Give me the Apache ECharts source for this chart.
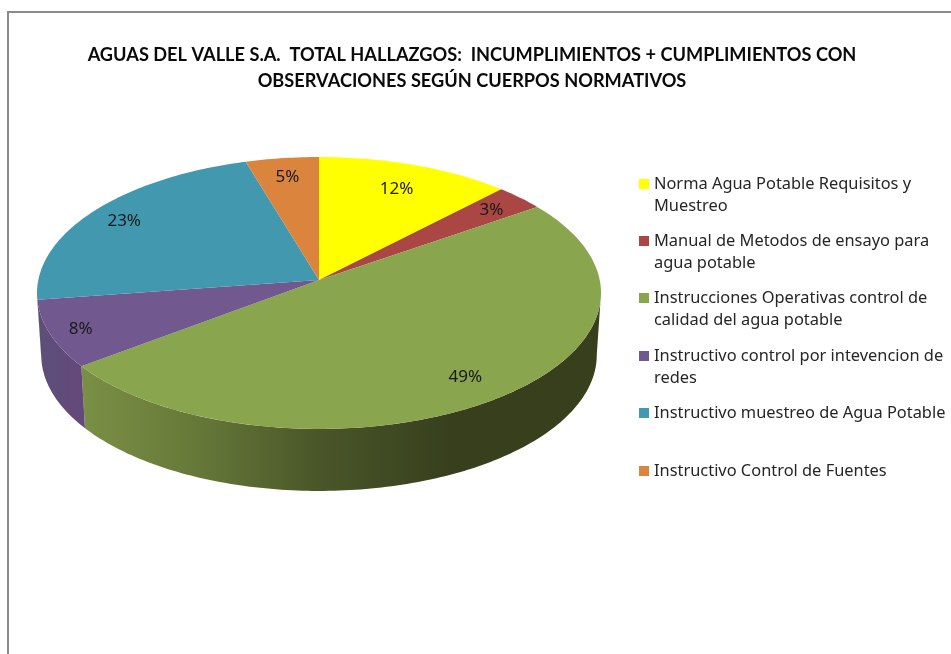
<!DOCTYPE html>
<html>
<head>
<meta charset="utf-8">
<style>html,body{margin:0;padding:0;background:#fff}#c{width:951px;height:654px}</style>
<script src="https://cdn.jsdelivr.net/npm/echarts@6/dist/echarts.min.js"></script>
</head>
<body>
<div id="c"></div>
<script>
var categories = [
  'Norma Agua Potable Requisitos y Muestreo',
  'Manual de Metodos de ensayo para agua potable',
  'Instrucciones Operativas control de calidad del agua potable',
  'Instructivo control por intevencion de redes',
  'Instructivo muestreo de Agua Potable',
  'Instructivo Control de Fuentes'
];
var legendLines = [
  '\u00a0\nNorma Agua Potable Requisitos y\nMuestreo',
  '\u00a0\nManual de Metodos de ensayo para\nagua potable',
  '\u00a0\nInstrucciones Operativas control de\ncalidad del agua potable',
  '\u00a0\nInstructivo control por intevencion de\nredes',
  'Instructivo muestreo de Agua Potable',
  'Instructivo Control de Fuentes'
];
var values = [12.2, 3.1, 49.4, 8.0, 22.7, 4.6];
var colors = ['#FFFF00', '#AA4643', '#89A54E', '#71588F', '#4198AF', '#DB843D'];
var wallColors = [
  [[0, '#8a8a00'], [1, '#8a8a00']],
  [[0, '#6b2c2a'], [1, '#6b2c2a']],
  [[0, '#7A8F45'], [0.3, '#657838'], [0.6, '#4A5729'], [0.95, '#373F1D'], [1, '#373F1D']],
  [[0, '#5C4F7A'], [1, '#644879']],
  [[0, '#3a7a8c'], [1, '#3a7a8c']],
  [[0, '#a8652e'], [1, '#a8652e']]
];
var legendTops = [151, 208, 265, 323, 402, 460];
var labelRadius = [0.79, 0.85, 0.83, 0.89, 0.86, 0.84];

// Projection of the tilted disc
var CX = 319, CY = 280, KX = 280.7, KY = 134.7, P = 0.0955, DEPTH = 62, SHRINK = 0.985;
function project(deg, r, lower) {
  var t = deg * Math.PI / 180;
  var X = Math.sin(t) * r, Y = Math.cos(t) * r;
  var den = 1 + P * Y;
  return lower
    ? [CX + SHRINK * KX * X / den, CY + DEPTH - KY * Y / den]
    : [CX + KX * X / den, CY - KY * Y / den];
}
function arc(a, b, r, lower) {
  var pts = [], n = Math.max(2, Math.ceil(Math.abs(b - a)));
  for (var i = 0; i <= n; i++) pts.push(project(a + (b - a) * i / n, r, lower));
  return pts;
}

var total = values.reduce(function (s, v) { return s + v; }, 0);
var cum = 0;
var spans = values.map(function (v) {
  var s = cum; cum += v;
  return [s / total * 360, cum / total * 360, v / total * 100];
});

function makeRender(idx) {
  return function (params, api) {
    var a = api.value(0), b = api.value(1), pct = api.value(2);
    var children = [];
    var wa = Math.max(a, 95.5), wb = Math.min(b, 264.5);
    if (wb > wa) {
      var upper = arc(wa, wb, 1, false);
      var low = arc(wa, wb, 1, true).reverse();
      children.push({
        type: 'polygon', z2: 1, silent: true,
        shape: { points: upper.concat(low) },
        style: {
          fill: {
            type: 'linear', global: true, x: wa > 200 ? 38 : 84, y: 0, x2: wa > 200 ? 84 : 470, y2: 0,
            colorStops: wallColors[idx].map(function (s) { return { offset: s[0], color: s[1] }; })
          }
        }
      });
    }
    children.push({
      type: 'polygon', z2: 2, silent: true,
      shape: { points: [[CX, CY]].concat(arc(a, b, 1, false)) },
      style: { fill: colors[idx] }
    });
    var lp = project((a + b) / 2, labelRadius[idx], false);
    children.push({
      type: 'text', z2: 3, silent: true,
      style: {
        text: Math.round(pct) + '%', x: lp[0], y: lp[1] + 1,
        align: 'center', verticalAlign: 'middle',
        font: '17px "Noto Sans"', fill: '#1a1a1a'
      }
    });
    return { type: 'group', children: children };
  };
}

var series = categories.map(function (name, i) {
  return {
    type: 'custom', name: name, coordinateSystem: 'none', silent: true,
    itemStyle: { color: colors[i] },
    data: [spans[i]],
    renderItem: makeRender(i)
  };
});

var legends = categories.map(function (name, i) {
  return {
    left: 639, top: legendTops[i], padding: 0, orient: 'vertical',
    data: [{ name: name, icon: 'rect' }],
    itemWidth: 10, itemHeight: 10, itemGap: 0, selectedMode: false,
    formatter: function () { return legendLines[i]; },
    textStyle: { fontFamily: '"Noto Sans"', fontSize: 16.4, color: '#262626', lineHeight: 22 }
  };
});

var chart = echarts.init(document.getElementById('c'), null, { renderer: 'canvas' });
chart.setOption({
  animation: false,
  backgroundColor: '#ffffff',
  title: {
    text: 'AGUAS DEL VALLE S.A.  TOTAL HALLAZGOS:  INCUMPLIMIENTOS + CUMPLIMIENTOS CON\nOBSERVACIONES SEGÚN CUERPOS NORMATIVOS',
    left: 472, top: 42, textAlign: 'center', padding: 0,
    textStyle: { fontFamily: 'Lato', fontWeight: 'bold', fontSize: 18.2, lineHeight: 26, color: '#0a0a0a' }
  },
  legend: legends,
  graphic: [{
    type: 'polyline', silent: true,
    shape: { points: [[8, 654], [8, 12], [951, 12]] },
    style: { stroke: '#8a8a8a', lineWidth: 2, fill: null }
  }],
  series: series
});
</script>
</body>
</html>
